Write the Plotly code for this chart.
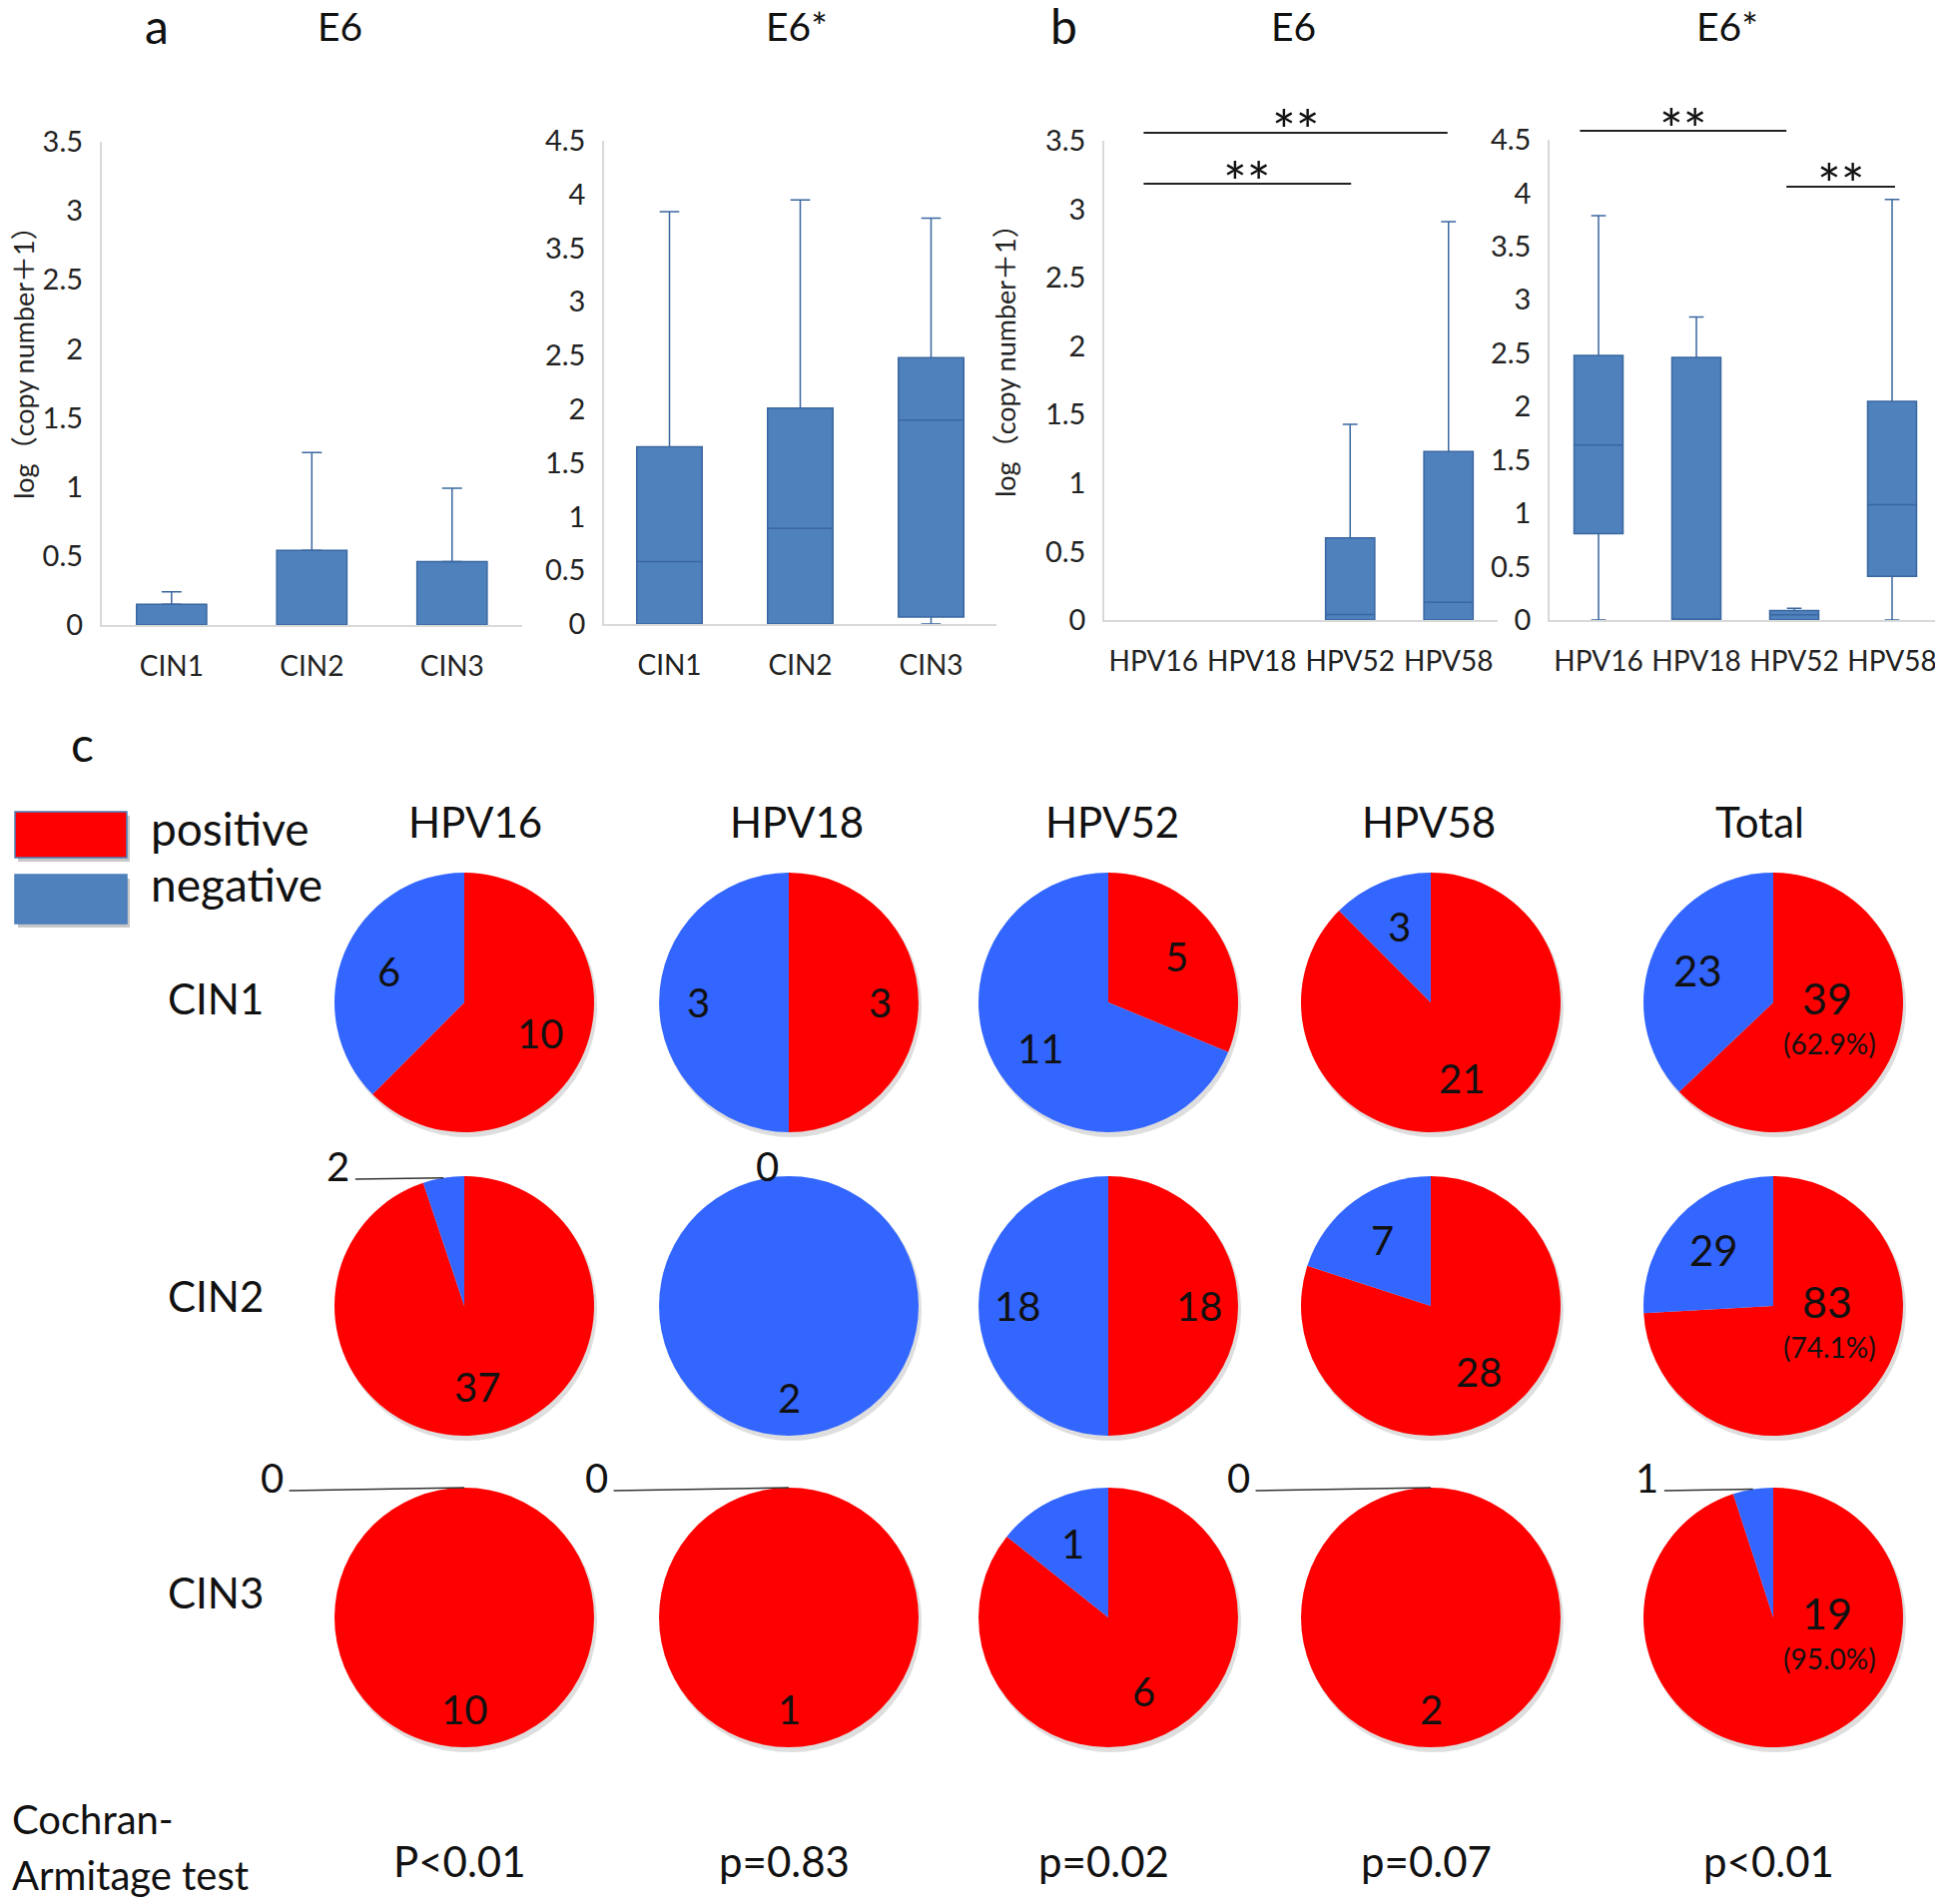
import math
import plotly.graph_objects as go

# ---------------- data ----------------
cin_categories = ["CIN1", "CIN2", "CIN3"]
hpv_categories = ["HPV16", "HPV18", "HPV52", "HPV58"]

# a, E6: bar height and upper end of error bar
a_e6_value = [0.15, 0.54, 0.46]
a_e6_upper = [0.24, 1.25, 0.99]

# a, E6*: box statistics
a_e6s_lowerfence = [0.0, 0.0, 0.0]
a_e6s_q1 = [0.0, 0.0, 0.065]
a_e6s_median = [0.58, 0.89, 1.90]
a_e6s_q3 = [1.65, 2.01, 2.48]
a_e6s_upperfence = [3.84, 3.95, 3.78]

# b, E6: box statistics (HPV16 / HPV18 all zero)
b_e6_lowerfence = [0.0, 0.0, 0.0, 0.0]
b_e6_q1 = [0.0, 0.0, 0.0, 0.0]
b_e6_median = [0.0, 0.0, 0.04, 0.13]
b_e6_q3 = [0.0, 0.0, 0.60, 1.23]
b_e6_upperfence = [0.0, 0.0, 1.43, 2.91]

# b, E6*: box statistics
b_e6s_lowerfence = [0.0, 0.0, 0.0, 0.0]
b_e6s_q1 = [0.81, 0.0, 0.0, 0.41]
b_e6s_median = [1.64, 0.0, 0.05, 1.08]
b_e6s_q3 = [2.48, 2.46, 0.09, 2.05]
b_e6s_upperfence = [3.79, 2.84, 0.11, 3.94]

# significance brackets (category index pairs)
b_e6_significance = [(0, 3), (0, 2)]
b_e6s_significance = [(0, 2), (2, 3)]
significance_label = "**"

# c: pie counts
pie_columns = ["HPV16", "HPV18", "HPV52", "HPV58", "Total"]
pie_rows = ["CIN1", "CIN2", "CIN3"]
positive_counts = [[10, 3, 5, 21, 39],
                   [37, 0, 18, 28, 83],
                   [10, 1, 6, 2, 19]]
negative_counts = [[6, 3, 11, 3, 23],
                   [2, 2, 18, 7, 29],
                   [0, 0, 1, 0, 1]]
legend_labels = ["positive", "negative"]
trend_test_label = ["Cochran-", "Armitage test"]
trend_p_values = ["P<0.01", "p=0.83", "p=0.02", "p=0.07", "p<0.01"]
y_title = "log\uff08copy number\uff0b1\uff09"

# ---------------- style ----------------
W, H = 1946, 1907
OFF = 8                      # page body margin of the written html
FW, FH = W - OFF, H - OFF
FONT = "Lato, Noto Sans CJK JP, sans-serif"
TXT = "#111111"
TICK = "#222222"
AXIS_LINE = "#D9D9D9"
BOX_FILL = "#4F81BD"
BOX_LINE = "#3A67A0"
RED = "#FF0000"
BLUE = "#3366FF"
LEG_BLUE = "#4F81BD"


def PX(x):
    return (x - OFF) / FW


def PY(y):
    return 1 - (y - OFF) / FH


fig = go.Figure()

# axes: (suffix, x-domain px, y-domain px (top, bottom), ymax, categories)
axes_cfg = [
    ("", (101.6, 523), (142, 626), 3.5, cin_categories),
    ("2", (605, 998), (141, 625), 4.5, cin_categories),
    ("3", (1106, 1500), (141, 621), 3.5, hpv_categories),
    ("4", (1552, 1944), (140, 621), 4.5, hpv_categories),
]
layout_axes = {}
for suf, xd, yd, ymax, cats in axes_cfg:
    layout_axes["xaxis" + suf] = dict(
        domain=[PX(xd[0]), PX(xd[1])], anchor="y" + suf,
        range=[-0.5, len(cats) - 0.5], tickvals=list(range(len(cats))), ticktext=cats,
        showline=True, linecolor=AXIS_LINE, linewidth=1.5, ticks="", showgrid=False,
        zeroline=False, tickfont=dict(family=FONT, size=28, color=TICK),
        ticklabelstandoff=16, fixedrange=True)
    layout_axes["yaxis" + suf] = dict(
        domain=[PY(yd[1]), PY(yd[0])], anchor="x" + suf,
        range=[0, ymax], tick0=0, dtick=0.5,
        showline=True, linecolor=AXIS_LINE, linewidth=1.5, ticks="", showgrid=False,
        zeroline=False, tickfont=dict(family=FONT, size=29, color=TICK),
        ticklabelstandoff=11, fixedrange=True)

# ---- a, E6 : bars with upper error bars
fig.add_trace(go.Bar(
    x=list(range(len(cin_categories))), y=a_e6_value, width=0.5,
    marker=dict(color=BOX_FILL, line=dict(color=BOX_LINE, width=1.5)),
    error_y=dict(type="data", symmetric=False,
                 array=[u - v for u, v in zip(a_e6_upper, a_e6_value)],
                 arrayminus=[0] * len(a_e6_value),
                 color=BOX_LINE, thickness=1.5, width=10),
    xaxis="x", yaxis="y", showlegend=False, hoverinfo="skip"))


def add_box(cats, lf, q1, med, q3, uf, suf):
    idx = [i for i in range(len(cats)) if uf[i] > 0 or q3[i] > 0]
    fig.add_trace(go.Box(
        x=idx, lowerfence=[lf[i] for i in idx], q1=[q1[i] for i in idx],
        median=[med[i] for i in idx], q3=[q3[i] for i in idx],
        upperfence=[uf[i] for i in idx],
        fillcolor=BOX_FILL, line=dict(color=BOX_LINE, width=1.5),
        whiskerwidth=0.3, width=0.5, boxpoints=False,
        xaxis="x" + suf, yaxis="y" + suf, showlegend=False, hoverinfo="skip"))


add_box(cin_categories, a_e6s_lowerfence, a_e6s_q1, a_e6s_median, a_e6s_q3, a_e6s_upperfence, "2")
add_box(hpv_categories, b_e6_lowerfence, b_e6_q1, b_e6_median, b_e6_q3, b_e6_upperfence, "3")
add_box(hpv_categories, b_e6s_lowerfence, b_e6s_q1, b_e6s_median, b_e6s_q3, b_e6s_upperfence, "4")

annotations = []
shapes = []


def ann(text, x, y, size, color=TXT, xanchor="center", yanchor="middle", xref="paper", angle=0):
    annotations.append(dict(text=text, x=x, y=y, xref=xref, yref="paper",
                            xanchor=xanchor, yanchor=yanchor, showarrow=False,
                            textangle=angle,
                            font=dict(family=FONT, size=size, color=color)))


# panel letters and titles
ann("a", PX(157), PY(25), 48)
ann("b", PX(1065), PY(25), 48)
ann("c", PX(82), PY(745), 48)
ann("E6", PX(340), PY(26), 39)
ann("E6*", PX(798), PY(26), 39)
ann("E6", PX(1295), PY(26), 39)
ann("E6*", PX(1730), PY(26), 39)
ann(y_title, PX(23), PY(357), 27, color=TICK, angle=-90)
ann(y_title, PX(1006), PY(355), 27, color=TICK, angle=-90)

# significance brackets: (x-extension start, x-extension end, y px)
sig_style = {
    "3": [(-0.10, -0.01, 133), (-0.10, 0.01, 184)],
    "4": [(-0.19, -0.08, 131), (-0.08, 0.03, 187)],
}
for suf, pairs in (("3", b_e6_significance), ("4", b_e6s_significance)):
    for (i0, i1), (e0, e1, ypx) in zip(pairs, sig_style[suf]):
        x0, x1 = i0 + e0, i1 + e1
        shapes.append(dict(type="line", xref="x" + suf, yref="paper",
                           x0=x0, x1=x1, y0=PY(ypx), y1=PY(ypx),
                           line=dict(color="#222222", width=2.2)))
        ann(significance_label, (x0 + x1) / 2, PY(ypx - 3), 56, xref="x" + suf)

# ---- c : pies
R = 130
COL_X = [465, 790, 1110, 1433, 1776]
HEADER_X = [476, 798, 1114, 1431, 1762]
ROW_Y = [1004, 1308, 1620]
ROW_LABEL_Y = [1000, 1298, 1595]
HEADER_Y = 823

for ci, name in enumerate(pie_columns):
    ann(name, PX(HEADER_X[ci]), PY(HEADER_Y), 42)
    ann(trend_p_values[ci], PX(COL_X[ci] - 5), PY(1864), 42)
for ri, name in enumerate(pie_rows):
    ann(name, PX(216), PY(ROW_LABEL_Y[ri]), 42)

ann(trend_test_label[0], PX(10), PY(1822), 40, xanchor="left")
ann(trend_test_label[1], PX(10), PY(1878), 40, xanchor="left")

# legend
for (y0, y1), color, label, ty in (((813, 859), RED, legend_labels[0], 830),
                                   ((876, 925), LEG_BLUE, legend_labels[1], 885)):
    shapes.append(dict(type="rect", xref="paper", yref="paper", layer="below",
                       x0=PX(18), x1=PX(130), y0=PY(y1 + 4), y1=PY(y0 + 4),
                       fillcolor="rgba(0,0,0,0.22)", line=dict(width=0)))
    shapes.append(dict(type="rect", xref="paper", yref="paper",
                       x0=PX(15), x1=PX(127), y0=PY(y1), y1=PY(y0),
                       fillcolor=color, line=dict(color="#4A7EBB", width=1.5)))
    ann(label, PX(149), PY(ty), 46, xanchor="left")

for ri in range(len(pie_rows)):
    for ci in range(len(pie_columns)):
        cx, cy = COL_X[ci], ROW_Y[ri]
        vals = [positive_counts[ri][ci], negative_counts[ri][ci]]
        total = sum(vals)
        # soft shadow
        shapes.append(dict(type="circle", xref="paper", yref="paper", layer="below",
                           x0=PX(cx - R + 2), x1=PX(cx + R + 3), y0=PY(cy + R + 5), y1=PY(cy - R + 3),
                           fillcolor="rgba(0,0,0,0.13)", line=dict(width=0)))
        fig.add_trace(go.Pie(
            values=vals, labels=legend_labels, sort=False, direction="clockwise", rotation=0,
            marker=dict(colors=[RED, BLUE], line=dict(width=0)),
            textinfo="none", hoverinfo="skip", showlegend=False,
            domain=dict(x=[PX(cx - R), PX(cx + R)], y=[PY(cy + R), PY(cy - R)])))
        start = 0.0
        for i, v in enumerate(vals):
            frac = v / total
            mid = (start + frac / 2) * 2 * math.pi
            if frac >= 0.06:
                if pie_columns[ci] == "Total" and i == 0:
                    a = math.radians(108)
                    gx = cx + 0.44 * R * math.sin(a)
                    gy = cy - 0.44 * R * math.cos(a)
                    ann(str(v), PX(gx), PY(gy - 22), 43)
                    ann("(%.1f%%)" % (100.0 * v / total), PX(gx + 2), PY(gy + 23), 28)
                else:
                    if frac >= 1:
                        f = 0.71
                    elif abs(frac - 0.5) < 1e-9:
                        f = 0.7
                    else:
                        f = 0.63
                    lx = cx + f * R * math.sin(mid)
                    ly = cy - f * R * math.cos(mid)
                    ann(str(v), PX(lx), PY(ly), 42 if pie_columns[ci] == "Total" else 40)
            else:
                if i == 0:
                    ann(str(v), PX(cx - 22), PY(cy - R - 10), 40)
                else:
                    dxf = 1.48 if v == 0 else 0.97
                    lx, ly = cx - dxf * R, cy - R - 10
                    ann(str(v), PX(lx), PY(ly), 40)
                    ex = cx + R * math.sin(mid)
                    ey = cy - R * math.cos(mid)
                    shapes.append(dict(type="line", xref="paper", yref="paper",
                                       x0=PX(lx + 17), y0=PY(ly + 13), x1=PX(ex), y1=PY(ey),
                                       line=dict(color="#333333", width=1.5)))
            start += frac

fig.update_layout(
    template="none", width=FW, height=FH,
    margin=dict(l=0, r=0, t=0, b=0),
    paper_bgcolor="white", plot_bgcolor="rgba(0,0,0,0)",
    font=dict(family=FONT, color=TXT),
    showlegend=False, annotations=annotations, shapes=shapes,
    **layout_axes)

fig.write_html("out.html")
